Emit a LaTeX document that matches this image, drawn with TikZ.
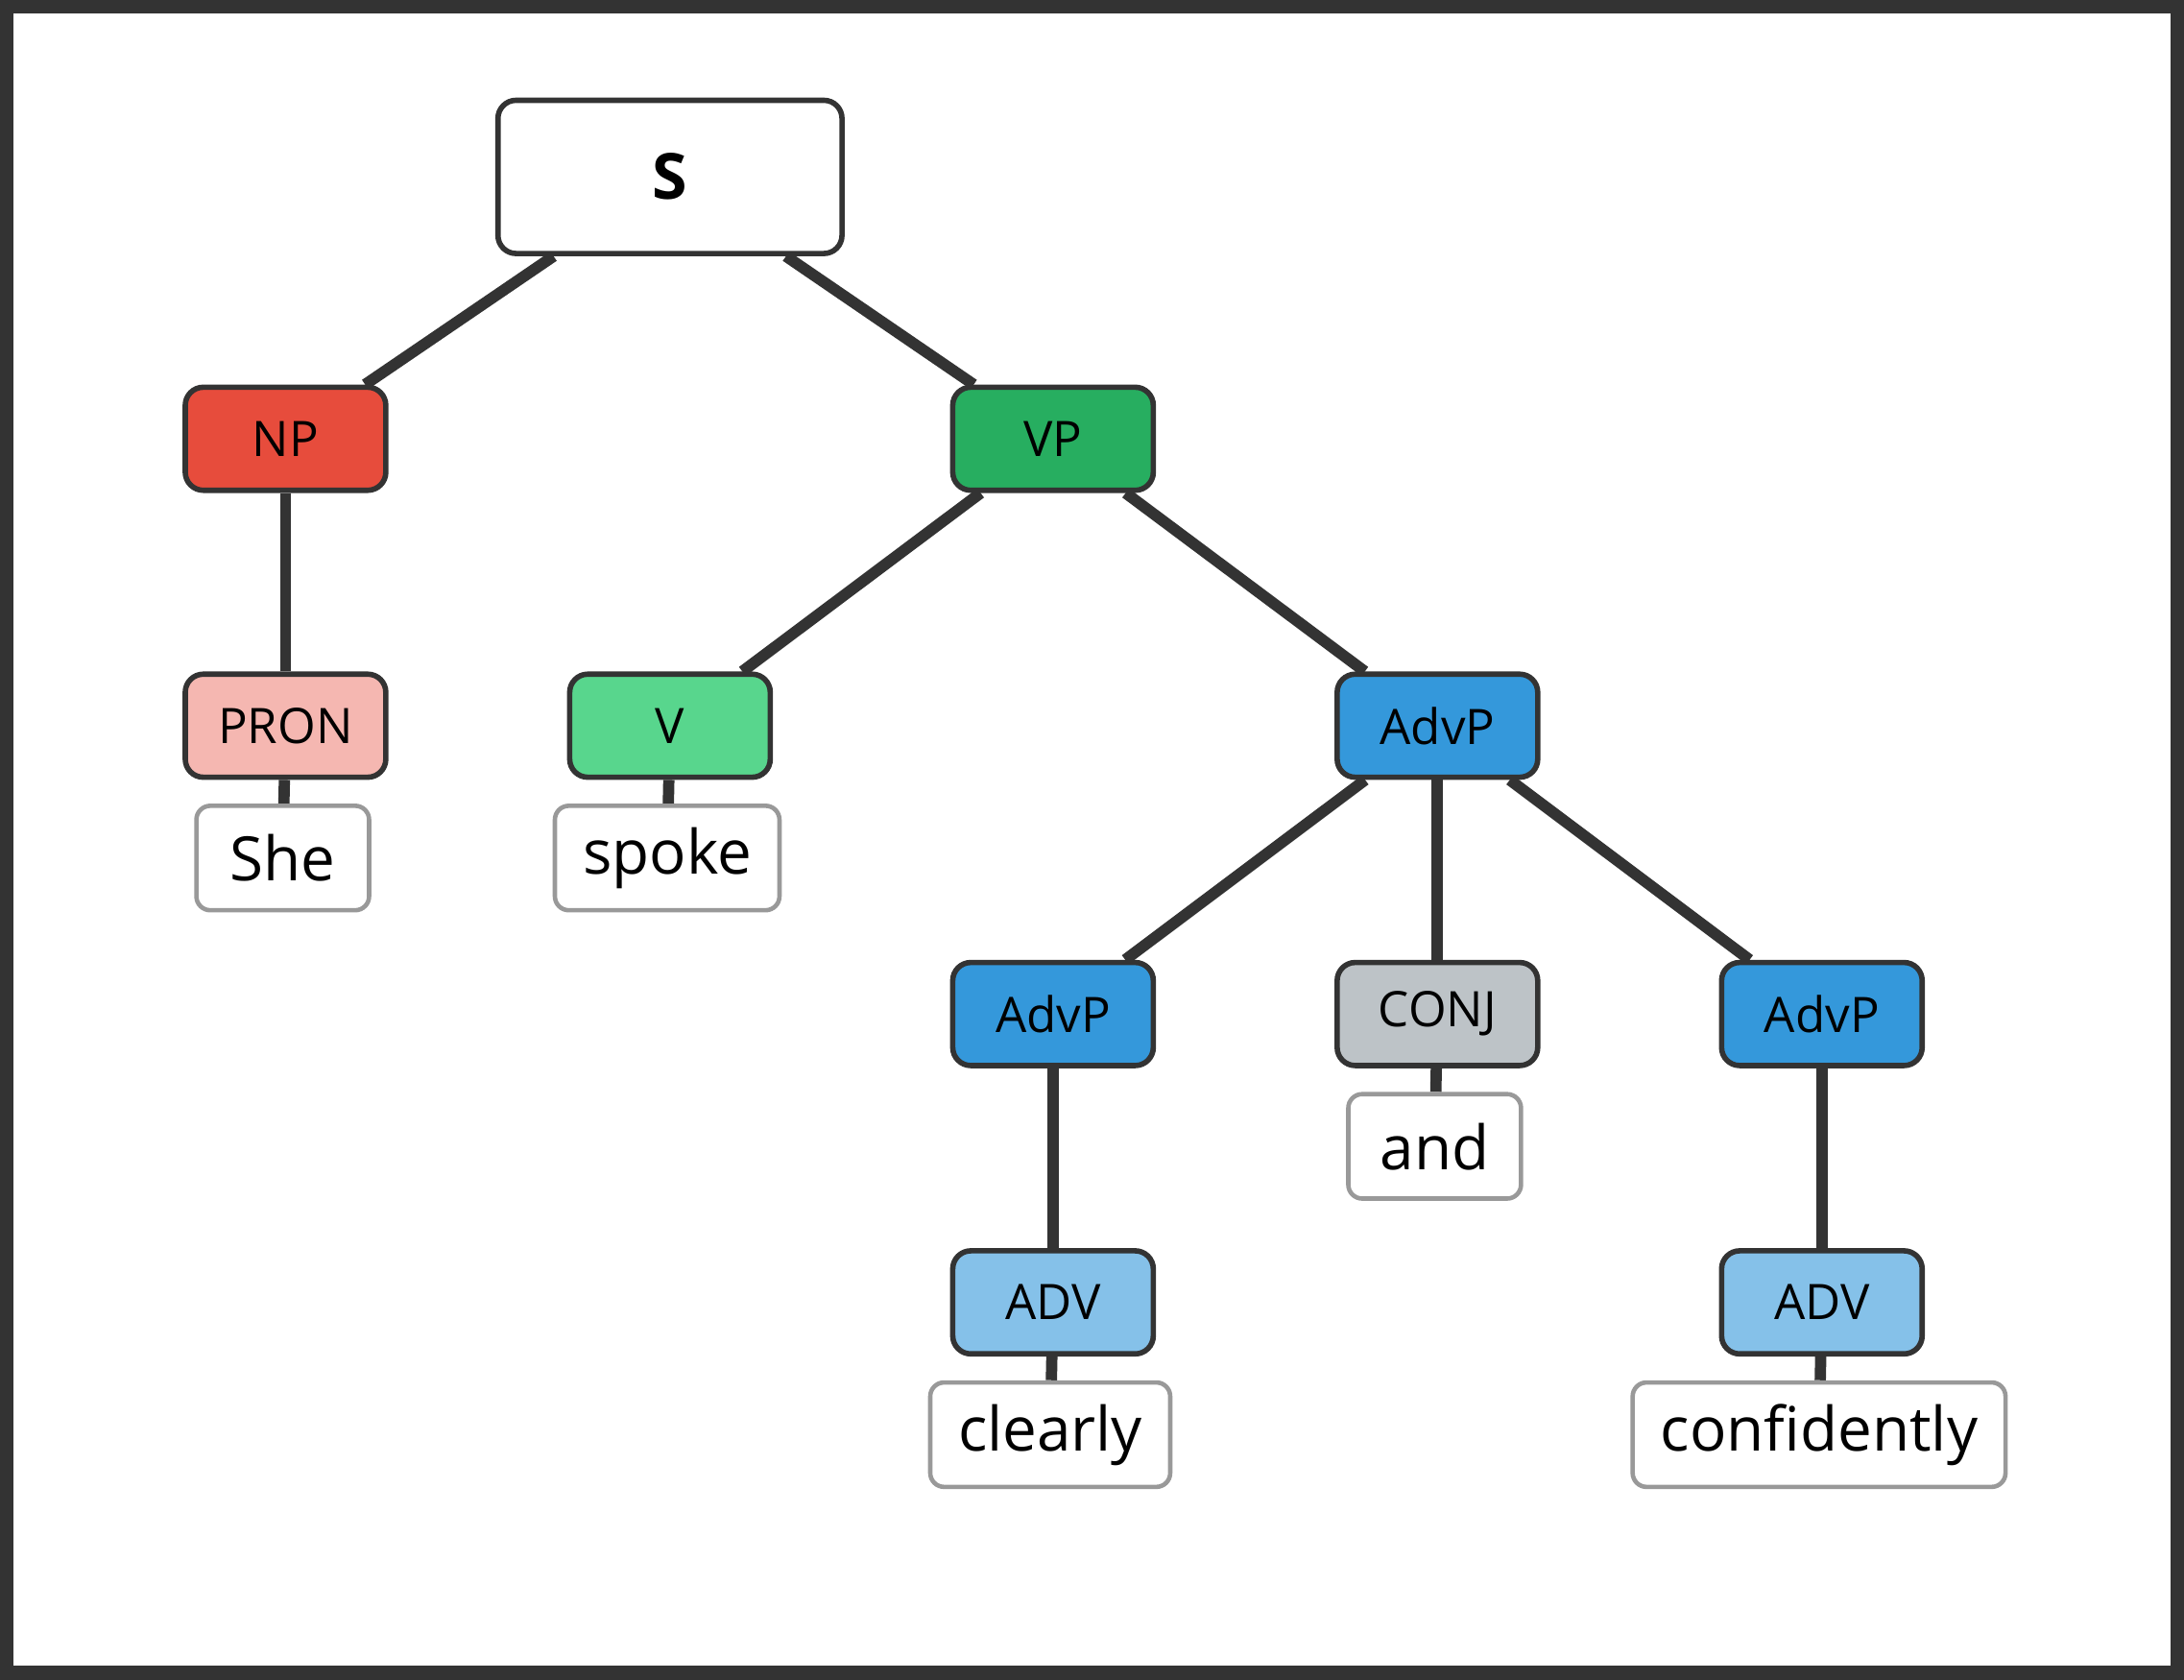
\documentclass[tikz,border=0pt]{standalone}
\usepackage{fontspec}
\setmainfont{Open Sans}
\usetikzlibrary{positioning,backgrounds}
\definecolor{edgegray}{HTML}{333333}
\definecolor{npred}{HTML}{E74C3C}
\definecolor{vpgreen}{HTML}{27AE60}
\definecolor{pronpink}{HTML}{F5B7B1}
\definecolor{vgreen}{HTML}{58D68D}
\definecolor{advpblue}{HTML}{3498DB}
\definecolor{conjgray}{HTML}{BDC3C7}
\definecolor{advblue}{HTML}{85C1E9}
\definecolor{wordgray}{HTML}{999999}
\tikzset{
    tag/.style={draw=edgegray, line width=1.1pt, rounded corners=0.13cm, minimum width=1.44cm, minimum height=0.74cm, font=\fontsize{10}{12}\selectfont},
    word/.style={draw=wordgray, fill=white, line width=0.9pt, rounded corners=0.1cm, minimum height=0.75cm, inner xsep=0.2cm, font=\fontsize{12.5}{15}\selectfont},
    branch/.style={draw=edgegray, line width=2.3pt}
}
\begin{document}
\begin{tikzpicture}

    \useasboundingbox (0,0) rectangle (15.68,-12.06);

    \node[tag, fill=white, minimum width=2.47cm, minimum height=1.1cm, font=\bfseries\fontsize{13}{15}\selectfont] (S) at (4.81,-1.27) {S};

    \node[tag, fill=npred] (NP) at (2.05,-3.15) {NP};
    \node[tag, fill=vpgreen] (VP) at (7.56,-3.15) {VP};

    \node[tag, fill=pronpink] (PRON) at (2.05,-5.21) {PRON};
    \node[tag, fill=vgreen] (V) at (4.81,-5.21) {V};
    \node[tag, fill=advpblue] (AdvP) at (10.32,-5.21) {AdvP};

    \node[tag, fill=advpblue] (AdvPa) at (7.56,-7.28) {AdvP};
    \node[tag, fill=conjgray] (CONJ) at (10.32,-7.28) {CONJ};
    \node[tag, fill=advpblue] (AdvPb) at (13.08,-7.28) {AdvP};

    \node[tag, fill=advblue] (ADVa) at (7.56,-9.35) {ADV};
    \node[tag, fill=advblue] (ADVb) at (13.08,-9.35) {ADV};

    \node[word, minimum width=1.24cm] (She) at (2.03,-6.16) {She};
    \node[word, minimum width=1.58cm] (spoke) at (4.79,-6.16) {spoke};
    \node[word, minimum width=1.24cm] (and) at (10.30,-8.23) {and};
    \node[word, minimum width=1.67cm] (clearly) at (7.54,-10.30) {clearly};
    \node[word, minimum width=2.62cm] (confidently) at (13.06,-10.30) {confidently};

    \begin{scope}[on background layer]
        \draw[edgegray, line width=2.8pt, fill=white] (0.05,-0.05) rectangle (15.63,-12.01);
        \draw[branch] (S) -- (NP);
        \draw[branch] (S) -- (VP);
        \draw[branch] (NP) -- (PRON);
        \draw[branch] (VP) -- (V);
        \draw[branch] (VP) -- (AdvP);
        \draw[branch] (AdvP) -- (AdvPa);
        \draw[branch] (AdvP) -- (CONJ);
        \draw[branch] (AdvP) -- (AdvPb);
        \draw[branch] (AdvPa) -- (ADVa);
        \draw[branch] (AdvPb) -- (ADVb);
        \draw[branch] (PRON) -- (She);
        \draw[branch] (V) -- (spoke);
        \draw[branch] (CONJ) -- (and);
        \draw[branch] (ADVa) -- (clearly);
        \draw[branch] (ADVb) -- (confidently);
    \end{scope}
\end{tikzpicture}
\end{document}
